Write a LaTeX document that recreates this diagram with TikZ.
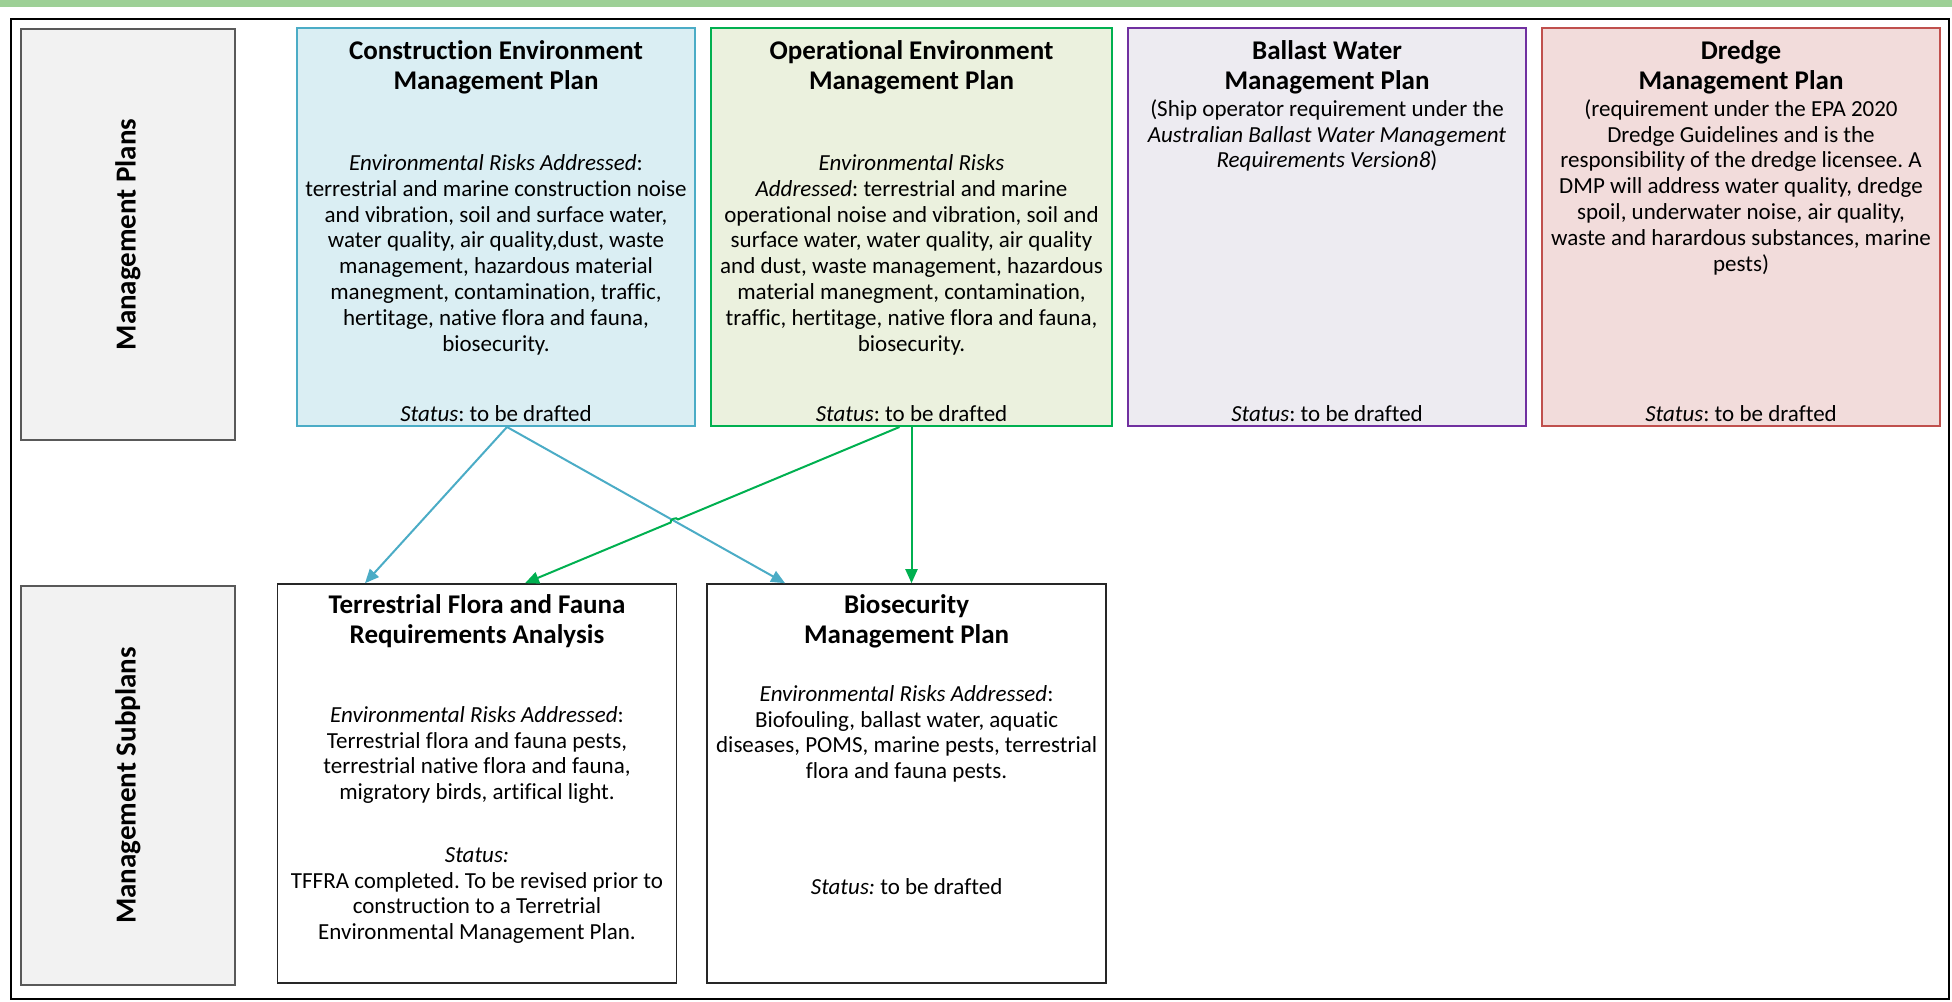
\documentclass[tikz,border=0pt]{standalone}
\usepackage{fontspec}
\setmainfont{Carlito}[Ligatures=NoCommon]
\usetikzlibrary{arrows.meta, positioning, calc}
\frenchspacing

\definecolor{cempline}{HTML}{4BACC6}
\definecolor{cempfill}{HTML}{DAEEF3}
\definecolor{oempline}{HTML}{00B050}
\definecolor{oempfill}{HTML}{EBF1DE}
\definecolor{bwline}{HTML}{7030A0}
\definecolor{bwfill}{HTML}{EDEBF1}
\definecolor{dmpline}{HTML}{C0504D}
\definecolor{dmpfill}{HTML}{F2DCDB}
\definecolor{lblfill}{HTML}{F2F2F2}
\definecolor{lblline}{HTML}{595959}
\definecolor{topbar}{HTML}{9DD096}

\begin{document}
\begin{tikzpicture}[
      x=0.5pt, y=-0.5pt,
      lbl/.style    = {draw=lblline, line width=1pt, fill=lblfill,
                       minimum width=107pt, inner sep=0pt},
      lbltxt/.style = {rotate=90, font=\fontsize{14.5}{17}\selectfont\bfseries},
      plan/.style   = {line width=1pt, minimum width=199pt,
                       minimum height=199pt, inner sep=0pt},
      sub/.style    = {draw=black!85, line width=0.8pt, minimum width=199.5pt,
                       minimum height=199.5pt, inner sep=0pt},
      ttl/.style    = {font=\fontsize{13.5}{15}\selectfont\bfseries,
                       align=center, inner sep=0pt},
      body/.style   = {font=\fontsize{11.5}{12.9}\selectfont,
                       align=center, inner sep=0pt},
      arr/.style    = {-{Triangle[length=7pt, width=6pt]}, line width=1pt}
    ]

    \useasboundingbox (0,0) rectangle (1952,1001);

    % ---- page decoration: green bar and outer frame ----
    \fill[topbar] (0,0) rectangle (1952,7);
    \draw[line width=1.2pt] (11,19) rectangle (1949,999);

    % ---- LEFT COLUMN: row labels ----
    \node[lbl, minimum height=205.5pt] (plansLbl) at (128,234.5) {};
    \node[lbltxt] (plansTxt) at (plansLbl) {Management Plans};
    \node[lbl, minimum height=199.5pt, below=72pt of plansLbl] (subLbl) {};
    \node[lbltxt] (subTxt) at (subLbl) {Management Subplans};

    % ---- TOP ROW: management plans ----
    \node[plan, draw=cempline, fill=cempfill] (cemp) at (496,227) {};
    \node[plan, draw=oempline, fill=oempfill, minimum width=200.5pt,
          right=7pt of cemp] (oemp) {};
    \node[plan, draw=bwline, fill=bwfill, right=7pt of oemp] (bwmp) {};
    \node[plan, draw=dmpline, fill=dmpfill, right=7pt of bwmp] (dmp) {};

    \node[ttl, below=6.6pt of cemp.north] (cempTtl)
        {Construction Environment\\Management Plan};
    \node[body, below=63.6pt of cemp.north] (cempTxt)
        {\textit{Environmental Risks Addressed}:\\
         terrestrial and marine construction noise\\
         and vibration, soil and surface water,\\
         water quality, air quality,dust, waste\\
         management, hazardous material\\
         manegment, contamination, traffic,\\
         hertitage, native flora and fauna,\\
         biosecurity.};
    \node[body, anchor=base] (cempSt) at ($(cemp.south)+(0,-5.6)$)
        {\textit{Status}: to be drafted};

    \node[ttl, below=6.6pt of oemp.north] (oempTtl)
        {Operational Environment\\Management Plan};
    \node[body, below=63.6pt of oemp.north] (oempTxt)
        {\textit{Environmental Risks}\\
         \textit{Addressed}: terrestrial and marine\\
         operational noise and vibration, soil and\\
         surface water, water quality, air quality\\
         and dust, waste management, hazardous\\
         material manegment, contamination,\\
         traffic, hertitage, native flora and fauna,\\
         biosecurity.};
    \node[body, anchor=base] (oempSt) at ($(oemp.south)+(0,-5.6)$)
        {\textit{Status}: to be drafted};

    \node[ttl, below=6.6pt of bwmp.north] (bwmpTtl)
        {Ballast Water\\Management Plan};
    \node[body, below=36pt of bwmp.north] (bwmpTxt)
        {(Ship operator requirement under the\\
         \textit{Australian Ballast Water Management}\\
         \textit{Requirements Version8})};
    \node[body, anchor=base] (bwmpSt) at ($(bwmp.south)+(0,-5.6)$)
        {\textit{Status}: to be drafted};

    \node[ttl, below=6.6pt of dmp.north] (dmpTtl)
        {Dredge\\Management Plan};
    \node[body, below=36pt of dmp.north] (dmpTxt)
        {(requirement under the EPA 2020\\
         Dredge Guidelines and is the\\
         responsibility of the dredge licensee. A\\
         DMP will address water quality, dredge\\
         spoil, underwater noise, air quality,\\
         waste and harardous substances, marine\\
         pests)};
    \node[body, anchor=base] (dmpSt) at ($(dmp.south)+(0,-5.6)$)
        {\textit{Status}: to be drafted};

    % ---- BOTTOM ROW: management subplans ----
    \node[sub] (tffra) at (477,783.5) {};
    \node[sub, right=14.5pt of tffra] (bmp) {};

    \node[ttl, below=5.6pt of tffra.north] (tffraTtl)
        {Terrestrial Flora and Fauna\\Requirements Analysis};
    \node[body, below=61.4pt of tffra.north] (tffraTxt)
        {\textit{Environmental Risks Addressed}:\\
         Terrestrial flora and fauna pests,\\
         terrestrial native flora and fauna,\\
         migratory birds, artifical light.};
    \node[body, below=131.9pt of tffra.north] (tffraSt)
        {\textit{Status:}\\
         TFFRA completed. To be revised prior to\\
         construction to a Terretrial\\
         Environmental Management Plan.};

    \node[ttl, below=5.6pt of bmp.north] (bmpTtl)
        {Biosecurity\\Management Plan};
    \node[body, below=50.9pt of bmp.north] (bmpTxt)
        {\textit{Environmental Risks Addressed}:\\
         Biofouling, ballast water, aquatic\\
         diseases, POMS, marine pests, terrestrial\\
         flora and fauna pests.};
    \node[body, below=147.4pt of bmp.north] (bmpSt)
        {\textit{Status:} to be drafted};

    % ---- Connectors ----
    \coordinate (cs)  at ($(cemp.south)+(11,0)$);
    \coordinate (ce1) at ($(tffra.north)+(-112,0)$);
    \coordinate (ce2) at ($(bmp.north)+(-121.5,0)$);
    \coordinate (gs)  at ($(oemp.south)+(-12,0)$);
    \coordinate (ge)  at ($(tffra.north)+(48,0)$);
    \coordinate (jmp) at (intersection of cs--ce2 and gs--ge);

    \draw[arr, cempline] (cs) -- (ce1);
    \draw[arr, cempline] (cs) -- (ce2);
    \draw[arr, oempline] (gs) -- ($(jmp)!2pt!(gs)$)
        to[relative, out=-90, in=-90] ($(jmp)!2pt!(ge)$) -- (ge);
    \draw[arr, oempline] (oemp.south) -- (oemp.south |- bmp.north);

  \end{tikzpicture}
\end{document}
